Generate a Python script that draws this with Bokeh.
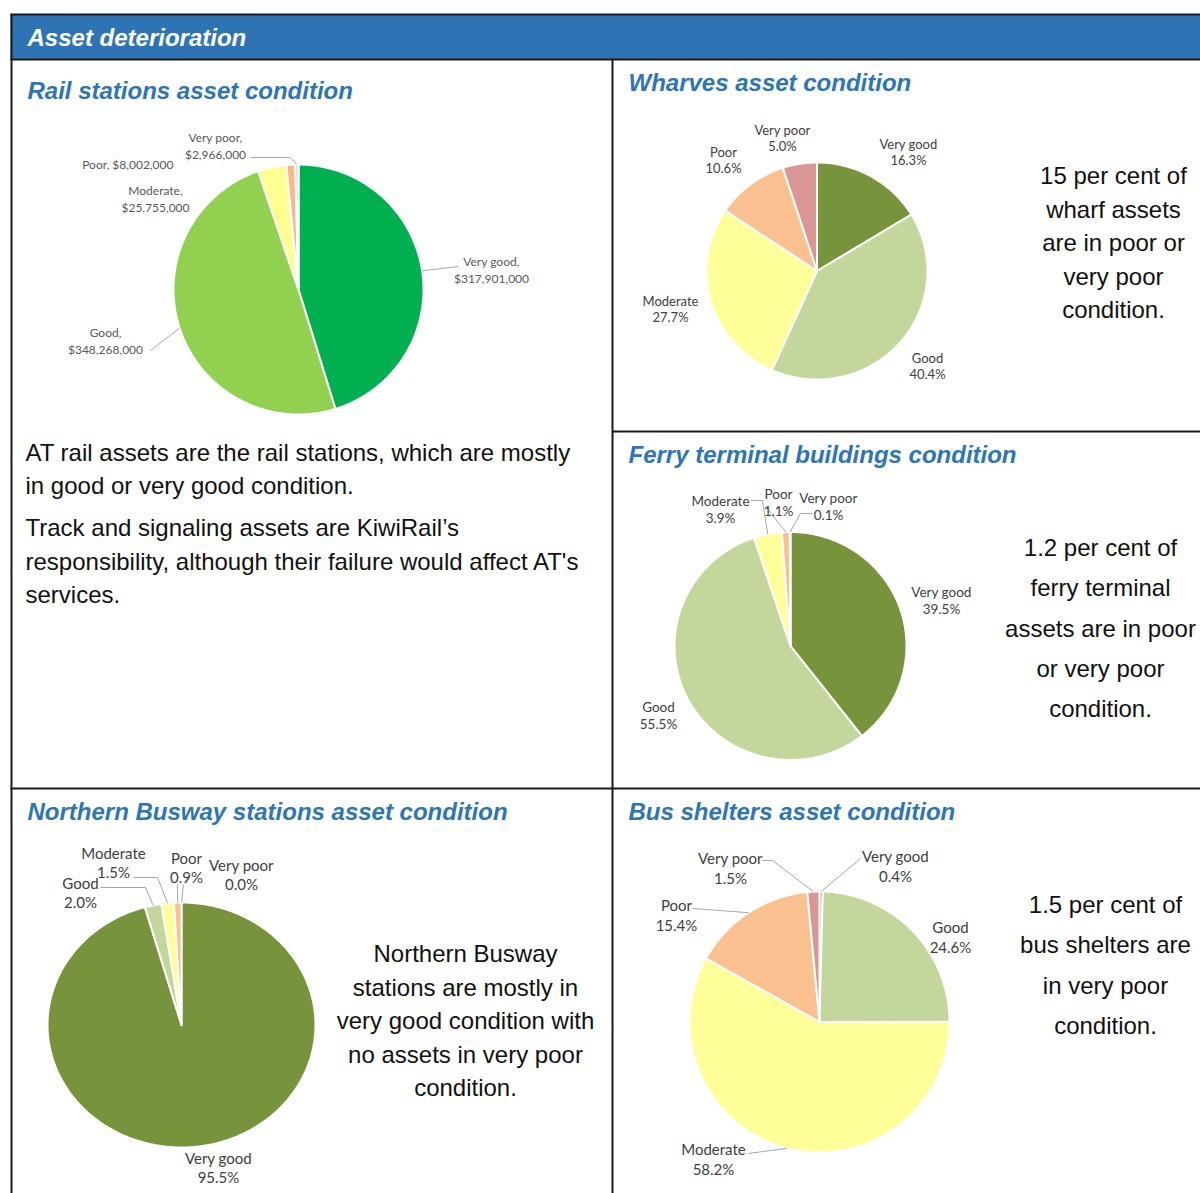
import numpy as np
from bokeh.plotting import figure
from bokeh.models import Range1d
from bokeh.core.properties import value
from bokeh.embed import file_html
from bokeh.resources import INLINE

# ---------------- data ----------------
conditions = ["Very good", "Good", "Moderate", "Poor", "Very poor"]
rail_values = [317901000, 348268000, 25755000, 8002000, 2966000]
wharves_pct = [16.3, 40.4, 27.7, 10.6, 5.0]
ferry_pct = [39.5, 55.5, 3.9, 1.1, 0.1]
busway_pct = [95.5, 2.0, 1.5, 0.9, 0.0]
shelters_pct = [0.4, 24.6, 58.2, 15.4, 1.5]

header_title = "Asset deterioration"
rail_title = "Rail stations asset condition"
wharves_title = "Wharves asset condition"
ferry_title = "Ferry terminal buildings condition"
busway_title = "Northern Busway stations asset condition"
shelters_title = "Bus shelters asset condition"

rail_text = ["AT rail assets are the rail stations, which are mostly",
             "in good or very good condition.",
             "Track and signaling assets are KiwiRail\u2019s",
             "responsibility, although their failure would affect AT's",
             "services."]
wharves_note = ["15 per cent of", "wharf assets", "are in poor or", "very poor", "condition."]
ferry_note = ["1.2 per cent of", "ferry terminal", "assets are in poor", "or very poor", "condition."]
busway_note = ["Northern Busway", "stations are mostly in", "very good condition with",
               "no assets in very poor", "condition."]
shelters_note = ["1.5 per cent of", "bus shelters are", "in very poor", "condition."]

# ---------------- styles ----------------
rail_colors = ["#00B050", "#92D050", "#FFFF8F", "#F8B88B", "#EFC6BF"]
cond_colors = ["#77933C", "#C3D69B", "#FFFF99", "#FAC090", "#D99694"]
BLUE = "#2E75B6"
LINE = "#1A1A1A"
BODY_FONT = "Liberation Sans"
BODY_SIZE = 24
TITLE_FONT = "Liberation Sans"
LABEL_FONT = "Lato"
INK = "#111111"

W, H = 1200, 1193
p = figure(width=W, height=H, x_range=Range1d(0, W), y_range=Range1d(0, H),
           output_backend="svg", toolbar_location=None, min_border=0,
           x_axis_location=None, y_axis_location=None)
p.xgrid.visible = False
p.ygrid.visible = False
p.outline_line_color = None
p.background_fill_color = "white"
p.border_fill_color = "white"


def X(px):
    return float(px)


def Y(py):
    return H - float(py)


def txt(x, y, lines, size, color, font, align="center", spacing=0, style="normal"):
    xs = [X(x)] * len(lines)
    ys = [Y(y + i * spacing) for i in range(len(lines))]
    p.text(x=xs, y=ys, text=lines, text_font=value(font), text_font_size=f"{size}px",
           text_color=color, text_align=align, text_baseline="middle",
           text_font_style=style)


def pie(cx, cy, rx, ry, vals, colors):
    """Slices start at 12 o'clock and run clockwise, sized by the data."""
    v = np.asarray(vals, float)
    frac = v / v.sum()
    cum = np.concatenate([[0.0], np.cumsum(frac)]) * 2 * np.pi
    xs, ys, cs = [], [], []
    for i in range(len(v)):
        if v[i] <= 0:
            continue
        n = max(3, int(np.degrees(cum[i + 1] - cum[i])) + 2)
        t = np.linspace(cum[i], cum[i + 1], n)
        xs.append([X(cx)] + list(X(cx) + rx * np.sin(t)))
        ys.append([Y(cy)] + list(Y(cy) + ry * np.cos(t)))
        cs.append(colors[i])
    p.patches(xs=xs, ys=ys, fill_color=cs, line_color="white", line_width=2,
              line_join="round")
    mid = (cum[:-1] + cum[1:]) / 2
    return X(cx) + rx * np.sin(mid), Y(cy) + ry * np.cos(mid)


def leaders(edges, spec):
    ex, ey = edges
    xs, ys = [], []
    for idx, pts in spec:
        xs.append([X(a) for a, b in pts] + [ex[idx]])
        ys.append([Y(b) for a, b in pts] + [ey[idx]])
    p.multi_line(xs=xs, ys=ys, line_color="#A6A6A6", line_width=1)


def pct_labels(vals, pos, size, spacing, color="#404040"):
    for i, (x, y) in enumerate(pos):
        txt(x, y, [conditions[i], f"{vals[i]:.1f}%"], size, color, LABEL_FONT,
            spacing=spacing)


# ---------------- table frame ----------------
p.quad(left=X(10), right=X(1200), bottom=Y(59), top=Y(14), fill_color="#2E74B5",
       line_color=None)
frame_x = [[X(10), X(1200)], [X(10), X(1200)], [X(11), X(11)], [X(612), X(612)],
           [X(612), X(1200)], [X(10), X(1200)]]
frame_y = [[Y(14), Y(14)], [Y(59), Y(59)], [Y(14), Y(1193)], [Y(59), Y(1193)],
           [Y(431), Y(431)], [Y(788), Y(788)]]
p.multi_line(xs=frame_x, ys=frame_y, line_color=LINE, line_width=2)

txt(27, 37, [header_title], 24, "white", TITLE_FONT, align="left", style="bold italic")
for t, x, y in [(rail_title, 27, 90), (wharves_title, 628, 82), (ferry_title, 628, 454),
                (busway_title, 27, 811), (shelters_title, 628, 811)]:
    txt(x, y, [t], 24, BLUE, TITLE_FONT, align="left", style="bold italic")

# ---------------- notes ----------------
txt(25, 452, rail_text[:2], BODY_SIZE, INK, BODY_FONT, align="left", spacing=33)
txt(25, 527, rail_text[2:], BODY_SIZE, INK, BODY_FONT, align="left", spacing=33.5)
txt(1113, 175, wharves_note, BODY_SIZE, INK, BODY_FONT, spacing=33.5)
txt(1100, 547, ferry_note, BODY_SIZE, INK, BODY_FONT, spacing=40.3)
txt(465, 953, busway_note, BODY_SIZE, INK, BODY_FONT, spacing=33.5)
txt(1105, 904, shelters_note, BODY_SIZE, INK, BODY_FONT, spacing=40.3)

# ---------------- rail pie ----------------
e = pie(298, 289, 125, 125, rail_values, rail_colors)
leaders(e, [(4, [(250, 157), (290, 157)]), (0, [(458, 266)]), (1, [(150, 350)])])
GREY = "#595959"
txt(215, 137, [f"{conditions[4]},", f"${rail_values[4]:,}"], 12, GREY, LABEL_FONT, spacing=17)
txt(173, 164, [f"{conditions[3]}, ${rail_values[3]:,}"], 12, GREY, LABEL_FONT, align="right")
txt(155, 190, [f"{conditions[2]},", f"${rail_values[2]:,}"], 12, GREY, LABEL_FONT, spacing=17)
txt(491, 261, [f"{conditions[0]},", f"${rail_values[0]:,}"], 12, GREY, LABEL_FONT, spacing=17)
txt(105, 332, [f"{conditions[1]},", f"${rail_values[1]:,}"], 12, GREY, LABEL_FONT, spacing=17)

# ---------------- wharves pie ----------------
pie(816.5, 270.5, 110.5, 108.5, wharves_pct, cond_colors)
pct_labels(wharves_pct, [(908, 143), (927, 357), (670, 300), (723, 151), (782, 129)], 13, 16.5)

# ---------------- ferry pie ----------------
e = pie(790, 645.5, 116, 114, ferry_pct, cond_colors)
leaders(e, [(2, [(750, 500), (762, 500)]), (3, [(765, 506)]), (4, [(812, 513), (800, 513)])])
pct_labels(ferry_pct, [(941, 591), (658, 706), (720, 500), (778, 493), (828, 497)], 13.5, 17.5)

# ---------------- northern busway pie ----------------
e = pie(181, 1024.5, 134, 122.5, busway_pct, cond_colors)
leaders(e, [(1, [(100, 887), (145, 887)]), (2, [(133, 877), (157, 877)]),
            (3, [(177, 884)]), (4, [(183, 884)])])
pct_labels(busway_pct, [(218, 1157), (80, 882), (113, 852), (186, 857), (241, 864)], 15, 19.5)

# ---------------- bus shelters pie ----------------
e = pie(819, 1021.5, 130, 130.5, shelters_pct, cond_colors)
leaders(e, [(0, [(860, 858)]), (4, [(762, 860), (772, 860)]), (3, [(692, 908)]),
            (2, [(748, 1153)])])
pct_labels(shelters_pct, [(895, 855), (950, 926), (713, 1148), (676, 904), (730, 857)], 15, 20.5)

open("out.html", "w").write(file_html(p, INLINE))
